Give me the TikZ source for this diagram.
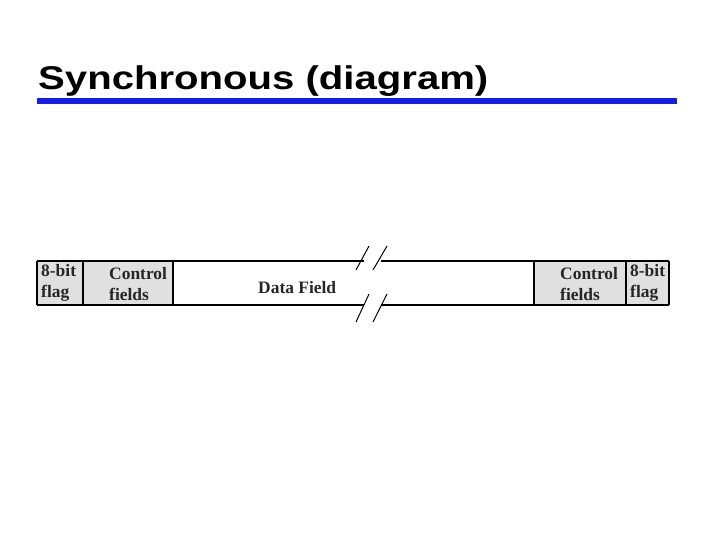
\documentclass[tikz,border=0pt]{standalone}
\usepackage{fontspec}
\setmainfont{Liberation Serif}
\newfontfamily\titlefont[FakeStretch=1.22]{Liberation Sans}
\definecolor{rulebl}{RGB}{20,30,230}
\definecolor{fieldgr}{RGB}{224,224,224}
\begin{document}
\begin{tikzpicture}[x=1bp,y=-1bp,
    fieldtext/.style={font=\fontsize{17.5}{21}\selectfont\bfseries, align=left, anchor=west, inner sep=0pt, text=black!85},
    breakline/.style={line width=1pt}]
    \useasboundingbox (0,0) rectangle (720,540);

    % Title
    \node [anchor=base west, inner sep=0pt, font=\titlefont\fontsize{33}{33}\selectfont\bfseries] (title) at (38,90) {Synchronous (diagram)};
    \fill [rulebl] (37,98) rectangle (677,104);

    % Frame fields
    \fill [fieldgr] (37,261) rectangle (173,305);
    \fill [fieldgr] (534,261) rectangle (669,305);
    \draw [line width=1.6pt] (37,261) -- (364,261);
    \draw [line width=1.6pt] (381,261) -- (669,261);
    \draw [line width=1.6pt] (37,305) -- (364,305);
    \draw [line width=1.6pt] (381,305) -- (669,305);
    \fill [white] (364,255) rectangle (381,312);
    \draw [line width=1.6pt] (37,261) -- (37,305);
    \draw [line width=1.6pt] (669,261) -- (669,305);
    \foreach \x in {83,173,534,626}
        \draw [line width=1.2pt] (\x,261) -- (\x,305);

    % Break marks
    \draw [breakline] (369,246) -- (356,270);
    \draw [breakline] (387,246) -- (373,270);
    \draw [breakline] (369,294) -- (356,322);
    \draw [breakline] (387,294) -- (373,322);

    % Labels
    \node [fieldtext] (flagl) at (41,283) {8-bit\\flag};
    \node [fieldtext] (ctrll) at (109,284) {Control\\fields};
    \node [fieldtext] (data) at (258,288) {Data Field};
    \node [fieldtext] (ctrlr) at (560,284) {Control\\fields};
    \node [fieldtext] (flagr) at (630,283) {8-bit\\flag};
\end{tikzpicture}
\end{document}
